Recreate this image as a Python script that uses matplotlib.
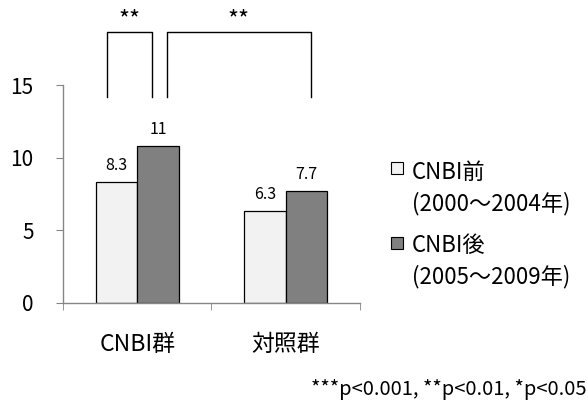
import numpy as np
import matplotlib
matplotlib.use("Agg")
import matplotlib.pyplot as plt
from matplotlib.patches import Rectangle

plt.rcParams['font.family'] = ['Noto Sans CJK JP', 'DejaVu Sans']

categories = ['CNBI群', '対照群']
before_vals = [8.3, 6.3]
after_vals = [10.8, 7.7]
before_labels = ['8.3', '6.3']
after_labels = ['11', '7.7']
series_names = ['CNBI前', 'CNBI後']
series_periods = ['(2000～2004年)', '(2005～2009年)']
yticks = [0, 5, 10, 15]
footnote = '***p<0.001, **p<0.01, *p<0.05'

# significance brackets: (x_left, x_right, y_bottom, y_top, label)
brackets = [(-0.2, 0.098, 14.2, 18.7, '**'),
            (0.2, 1.17, 14.2, 18.7, '**')]

c_light = '#F2F2F2'
c_dark = '#808080'
axis_col = '#868686'

fig = plt.figure(figsize=(5.88, 4.0), dpi=100)
ax = fig.add_axes([0.107, 0.243, 0.505, 0.544])

x = np.arange(len(categories))
w = 0.28
b1 = ax.bar(x - w / 2, before_vals, w, color=c_light, edgecolor='black', linewidth=0.9)
b2 = ax.bar(x + w / 2, after_vals, w, color=c_dark, edgecolor='black', linewidth=0.9)

for xi, v, lab in zip(x - w / 2, before_vals, before_labels):
    ax.annotate(lab, (xi, v), xytext=(0, 12), textcoords='offset points',
                ha='center', va='center', fontsize=11.5)
for xi, v, lab in zip(x + w / 2, after_vals, after_labels):
    ax.annotate(lab, (xi, v), xytext=(0, 12), textcoords='offset points',
                ha='center', va='center', fontsize=11.5)

for xl, xr, yb, yt, lab in brackets:
    ax.plot([xl, xl, xr, xr], [yb, yt, yt, yb], color='black', lw=1.0, clip_on=False)
    ax.annotate(lab, ((xl + xr) / 2, yt), xytext=(0, 8), textcoords='offset points',
                ha='center', va='center', fontsize=17, annotation_clip=False)

ax.set_xlim(-0.5, 1.5)
ax.set_ylim(0, 15)
ax.set_yticks(yticks)
ax.tick_params(axis='y', labelsize=15, length=5, color=axis_col, pad=16)
ax.set_xticks(x)
ax.set_xticklabels(categories)
ax.set_xticks([-0.5, 0.5, 1.5], minor=True)
ax.tick_params(axis='x', which='major', length=0, labelsize=16.5, pad=22)
ax.tick_params(axis='x', which='minor', length=5, color=axis_col)

for s in ['top', 'right']:
    ax.spines[s].set_visible(False)
for s in ['left', 'bottom']:
    ax.spines[s].set_color(axis_col)
    ax.spines[s].set_linewidth(1.0)

# legend drawn by hand so the box lines up with the first text line
leg_colors = [c_light, c_dark]
leg_y = [(168, 172, 204), (243, 246, 277)]
for col, name, period, (ys, y1, y2) in zip(leg_colors, series_names, series_periods, leg_y):
    fig.patches.append(Rectangle((391 / 588, 1 - (ys + 6) / 400), 12 / 588, 12 / 400,
                                 transform=fig.transFigure, facecolor=col,
                                 edgecolor='black', linewidth=0.8))
    fig.text(412 / 588, 1 - y1 / 400, name, ha='left', va='center', fontsize=16)
    fig.text(412 / 588, 1 - y2 / 400, period, ha='left', va='center', fontsize=16)

fig.text(0.997, 1 - 389 / 400, footnote, ha='right', va='center', fontsize=14.5)

fig.savefig('out.png', dpi=100)
